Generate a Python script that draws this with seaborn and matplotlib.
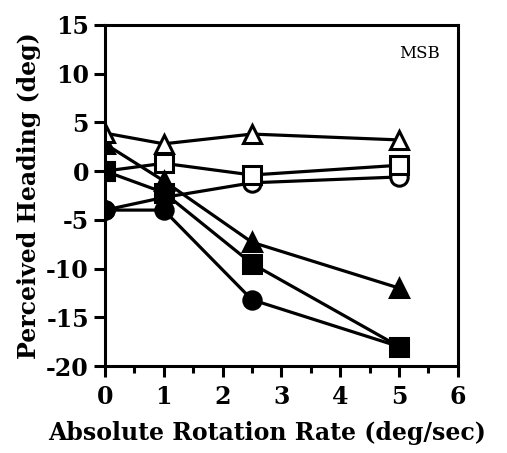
import pandas as pd
import matplotlib
matplotlib.use("Agg")
import matplotlib.pyplot as plt
import seaborn as sns
from matplotlib.ticker import MultipleLocator

# rotation rates and perceived heading per condition
rate = [0, 1, 2.5, 5]
open_circle = [-4.0, -2.7, -1.2, -0.6]
open_square = [0.0, 0.8, -0.4, 0.6]
filled_circle = [-4.0, -4.0, -13.2, -18.0]
filled_square = [0.0, -2.2, -9.5, -18.0]
filled_triangle = [2.8, -1.0, -7.3, -12.0]
open_triangle = [3.9, 2.8, 3.8, 3.2]

sns.set_theme(style="ticks")
plt.rcParams['font.family'] = ['DejaVu Serif']
plt.rcParams['axes.unicode_minus'] = False
plt.rcParams['text.color'] = 'black'
plt.rcParams['axes.labelcolor'] = 'black'
plt.rcParams['xtick.color'] = 'black'
plt.rcParams['ytick.color'] = 'black'

fig = plt.figure(figsize=(5.07, 4.53), dpi=100)
ax = fig.add_axes([0.207, 0.192, 0.696, 0.753])

# drawing order: open markers hidden under filled ones, except the open triangle
series = [
    ("open circle", open_circle, "o", "white"),
    ("open square", open_square, "s", "white"),
    ("filled circle", filled_circle, "o", "black"),
    ("filled square", filled_square, "s", "black"),
    ("filled triangle", filled_triangle, "^", "black"),
    ("open triangle", open_triangle, "^", "white"),
]
for name, vals, mk, fc in series:
    df = pd.DataFrame({"rate": rate, "heading": vals})
    sns.lineplot(data=df, x="rate", y="heading", ax=ax, color="black",
                 linewidth=2.3, marker=mk, markersize=12.5,
                 markerfacecolor=fc, markeredgecolor="black",
                 markeredgewidth=2.2, legend=False)

ax.set_xlim(0, 6)
ax.set_ylim(-20, 15)
ax.xaxis.set_major_locator(MultipleLocator(1))
ax.xaxis.set_minor_locator(MultipleLocator(0.5))
ax.yaxis.set_major_locator(MultipleLocator(5))
ax.tick_params(axis="both", which="major", direction="out", length=8,
               width=2.2, labelsize=17, color="black", labelcolor="black")
ax.tick_params(axis="x", which="major", pad=6)
ax.tick_params(axis="x", which="minor", direction="out", length=5,
               width=2.2, color="black")
for lbl in ax.get_xticklabels() + ax.get_yticklabels():
    lbl.set_fontweight("bold")
for sp in ax.spines.values():
    sp.set_linewidth(2.2)
    sp.set_color("black")

ax.set_xlabel("Absolute Rotation Rate (deg/sec)", fontsize=17,
              fontweight="bold")
ax.xaxis.set_label_coords(0.46, -0.16)
ax.set_ylabel("Perceived Heading (deg)", fontsize=17, fontweight="bold",
              labelpad=4)
ax.text(0.95, 0.94, "MSB", transform=ax.transAxes, ha="right", va="top",
        fontsize=12)

fig.savefig("out.png", dpi=100)
